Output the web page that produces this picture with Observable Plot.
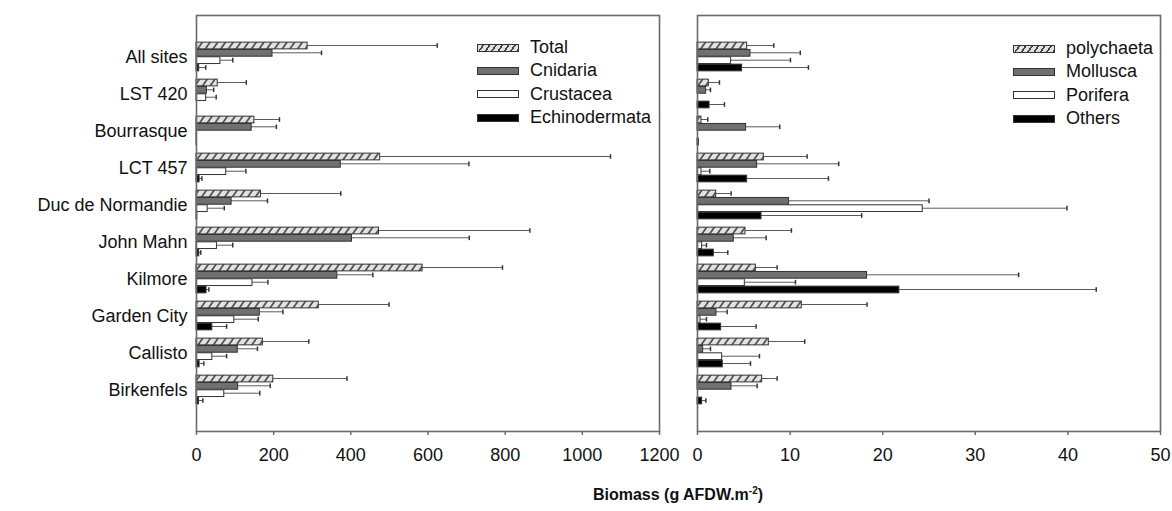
<!DOCTYPE html>
<html><head><meta charset="utf-8">
<script src="https://cdn.jsdelivr.net/npm/d3@7"></script>
<script src="https://cdn.jsdelivr.net/npm/@observablehq/plot@0.6"></script>
<style>
body{margin:0;background:#fff;font-family:"Liberation Sans",Arial,sans-serif;}
#wrap{position:relative;width:1172px;height:511px;overflow:hidden;}
#left{position:absolute;left:0;top:0}
#right{position:absolute;left:680px;top:0}
.leg{position:absolute;font-size:18px;color:#111;line-height:23px;}
.row{display:flex;align-items:center;height:23.3px;}
.sw{width:40px;height:6px;border:1px solid #333;margin-right:11px;box-sizing:content-box;}
#title{position:absolute;top:485px;left:678px;transform:translateX(-50%);white-space:nowrap;font-weight:bold;font-size:16px;color:#111;}
#title sup{font-size:10px;}
g[aria-label="x-axis tick"] path{stroke:#666;stroke-width:1.4;}
</style></head>
<body><div id="wrap"><div id="left"></div><div id="right"></div>
<div class="leg" id="legL" style="left:477px;top:36px"></div>
<div class="leg" id="legR" style="left:1013px;top:37px"></div>
<div id="title">Biomass (g AFDW.m<sup>-2</sup>)</div>
</div>
<script>
const sites = ["All sites","LST 420","Bourrasque","LCT 457","Duc de Normandie","John Mahn","Kilmore","Garden City","Callisto","Birkenfels"];

const leftSeries = ["Total","Cnidaria","Crustacea","Echinodermata"];
const total      = [288, 55, 150, 476, 167, 473, 586, 317, 172, 199];
const totalErr   = [336, 74, 65, 597, 207, 391, 207, 182, 119, 191];
const cnidaria   = [197, 27, 143, 374, 91, 403, 365, 164, 107, 108];
const cnidariaErr= [127, 17.5, 64, 332, 93, 304, 92, 60, 51, 83];
const crustacea  = [62, 25, 1, 77, 29, 53, 145, 98, 41, 72];
const crustaceaErr=[32, 26, 0, 51, 43, 41, 40, 62, 37, 92];
const echino     = [7, 0, 0.5, 8, 2, 7, 26, 41, 8, 6.5];
const echinoErr  = [17, 0, 0, 6, 0, 4, 6, 37, 11, 10];
const leftTicks  = [0, 200, 400, 600, 800, 1000, 1200];

const rightSeries = ["polychaeta","Mollusca","Porifera","Others"];
const polychaeta    = [5.36, 1.22, 0.43, 7.16, 2.02, 5.18, 6.3, 11.26, 7.7, 6.98];
const polychaetaErr = [2.88, 1.15, 0.68, 4.68, 1.61, 4.96, 2.3, 7.05, 3.88, 1.62];
const mollusca      = [5.72, 0.93, 5.25, 6.44, 9.89, 3.92, 18.31, 2.05, 0.61, 3.67];
const molluscaErr   = [5.38, 0.47, 3.63, 8.81, 15.11, 3.49, 16.37, 1.15, 0.79, 2.77];
const porifera      = [3.63, 0, 0, 0.43, 24.32, 0.5, 5.11, 0.32, 2.66, 0];
const poriferaErr   = [6.41, 0, 0, 0.9, 15.58, 0.47, 5.47, 0.65, 4.03, 0];
const others        = [4.82, 1.3, 0.15, 5.36, 6.91, 1.76, 21.8, 2.55, 2.73, 0.5];
const othersErr     = [7.16, 1.61, 0, 8.78, 10.82, 1.51, 21.26, 3.78, 2.99, 0.4];
const rightTicks    = [0, 10, 20, 30, 40, 50];

const DARK = "#333";
function fillsFor(id){ return [`url(#${id})`, "#707070", "#ffffff", "#000000"]; }

function panel({series, values, errs, domain, ticks, width, marginLeft, marginRight, showY, pid}) {
  const H = 470, mt = 15, mb = 39, inset = 20;
  const step = (H - mt - mb - 2*inset) / sites.length;
  const barH = 7.33;
  const start = (step - 4*barH) / 2;
  const fills = fillsFor(pid);
  const marks = [];
  series.forEach((s, k) => {
    const d = sites.map((site, i) => ({site, series: s, value: values[k][i], err: errs[k][i]}));
    const top = start + k*barH, bottom = step - top - barH, c = top + barH/2;
    marks.push(Plot.barX(d.filter(r => r.value > 0), {y: "site", x: "value", insetTop: top, insetBottom: bottom,
      fill: fills[k], stroke: DARK, strokeWidth: 1}));
    const e = d.filter(r => r.err > 0);
    marks.push(Plot.barX(e, {y: "site", x1: "value", x2: r => r.value + r.err, insetTop: c - 0.7, insetBottom: step - c - 0.7, fill: DARK}));
    marks.push(Plot.tickX(e, {y: "site", x: r => r.value + r.err, insetTop: c - 2.6, insetBottom: step - c - 2.6, stroke: DARK, strokeWidth: 1.5}));
  });
  marks.push(Plot.frame({stroke: "#6a6a6a", strokeWidth: 1.6}));
  const svg = Plot.plot({
    width, height: H, marginTop: mt, marginBottom: mb, marginLeft, marginRight,
    style: {fontFamily: '"Liberation Sans", Arial, sans-serif', fontSize: "18px", color: "#111", background: "white"},
    x: {domain, ticks, tickSize: 4, tickPadding: 13, tickFormat: d => String(d), label: null},
    y: showY ? {domain: sites, padding: 0, insetTop: inset, insetBottom: inset, tickSize: 0, tickPadding: 9, label: null}
             : {domain: sites, padding: 0, insetTop: inset, insetBottom: inset, axis: null},
    marks
  });
  svg.insertAdjacentHTML("afterbegin",
    `<defs><pattern id="${pid}" patternUnits="userSpaceOnUse" width="6.3" height="6.3" patternTransform="rotate(35)">
      <rect width="6.3" height="6.3" fill="#e2e2e2"/><line x1="1" y1="-1" x2="1" y2="8" stroke="#444" stroke-width="1.6"/></pattern></defs>`);
  return svg;
}

document.getElementById("left").append(panel({
  series: leftSeries, values: [total, cnidaria, crustacea, echino], errs: [totalErr, cnidariaErr, crustaceaErr, echinoErr],
  domain: [0, 1200], ticks: leftTicks, width: 680, marginLeft: 196, marginRight: 21, showY: true, pid: "hatchL"
}));
document.getElementById("right").append(panel({
  series: rightSeries, values: [polychaeta, mollusca, porifera, others], errs: [polychaetaErr, molluscaErr, poriferaErr, othersErr],
  domain: [0, 50], ticks: rightTicks, width: 492, marginLeft: 17, marginRight: 12, showY: false, pid: "hatchR"
}));

function legend(el, names) {
  const bg = ["repeating-linear-gradient(125deg, #e2e2e2 0 3.6px, #444 3.6px 5.2px)", "#707070", "#ffffff", "#000000"];
  names.forEach((n, k) => {
    const r = document.createElement("div"); r.className = "row";
    const s = document.createElement("div"); s.className = "sw"; s.style.background = bg[k];
    const t = document.createElement("span"); t.textContent = n;
    r.append(s, t); el.append(r);
  });
}
legend(document.getElementById("legL"), leftSeries);
legend(document.getElementById("legR"), rightSeries);
</script></body></html>
